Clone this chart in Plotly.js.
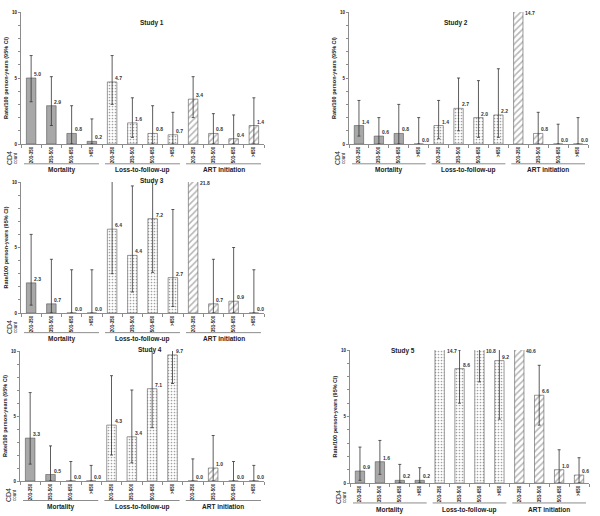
<!DOCTYPE html>
<html>
<head>
<meta charset="utf-8">
<script src="https://cdn.plot.ly/plotly-3.0.1.min.js"></script>
<style>
  html, body { margin: 0; padding: 0; background: #fff; }
  #chart { width: 600px; height: 516px; }
</style>
</head>
<body>
<div id="chart"></div>
<script>
const cd4Labels = ["201-350", "351-500", "501-650", ">650"];
const outcomes = ["Mortality", "Loss-to-follow-up", "ART initiation"];
const studyNames = ["Study 1", "Study 2", "Study 3", "Study 4", "Study 5"];

// rate per 100 person-years, then lower / upper 95% CI
// order: Mortality x4, Loss-to-follow-up x4, ART initiation x4
const study1Rate = [5.0, 2.9, 0.8, 0.2, 4.7, 1.6, 0.8, 0.7, 3.4, 0.8, 0.4, 1.4];
const study1Low  = [3.2, 1.4, 0.0, 0.0, 3.0, 0.5, 0.0, 0.0, 2.0, 0.0, 0.0, 0.0];
const study1High = [6.7, 5.1, 2.9, 1.9, 6.7, 3.5, 2.9, 2.4, 5.1, 2.3, 2.2, 3.5];

const study2Rate = [1.4, 0.6, 0.8, 0.0, 1.4, 2.7, 2.0, 2.2, 14.7, 0.8, 0.0, 0.0];
const study2Low  = [0.6, 0.0, 0.0, 0.0, 0.4, 1.0, 0.5, 0.5, 11.0, 0.0, 0.0, 0.0];
const study2High = [3.3, 2.0, 3.0, 2.0, 3.3, 5.0, 4.8, 5.7, 19.0, 2.4, 1.5, 2.0];

const study3Rate = [2.3, 0.7, 0.0, 0.0, 6.4, 4.4, 7.2, 2.7, 21.8, 0.7, 0.9, 0.0];
const study3Low  = [0.6, 0.0, 0.0, 0.0, 3.0, 1.6, 3.1, 0.5, 17.0, 0.0, 0.0, 0.0];
const study3High = [6.0, 4.1, 3.3, 3.3, 11.5, 9.7, 11.0, 7.9, 27.0, 4.1, 5.0, 3.3];

const study4Rate = [3.3, 0.5, 0.0, 0.0, 4.3, 3.4, 7.1, 9.7, 0.0, 1.0, 0.0, 0.0];
const study4Low  = [1.3, 0.0, 0.0, 0.0, 2.0, 1.4, 4.1, 7.5, 0.0, 0.0, 0.0, 0.0];
const study4High = [6.8, 2.7, 1.5, 1.2, 8.1, 7.0, 10.5, 12.0, 1.7, 3.5, 1.5, 1.2];

const study5Rate = [0.9, 1.6, 0.2, 0.2, 14.7, 8.6, 10.8, 9.2, 40.6, 6.6, 1.0, 0.6];
const study5Low  = [0.2, 0.65, 0.0, 0.0, 12.0, 6.0, 7.6, 4.8, 35.0, 4.35, 0.0, 0.0];
const study5High = [2.7, 3.2, 1.4, 1.15, 18.0, 10.0, 14.0, 11.5, 46.0, 8.85, 2.5, 1.9];

const rates = [study1Rate, study2Rate, study3Rate, study4Rate, study5Rate];
const lows = [study1Low, study2Low, study3Low, study4Low, study5Low];
const highs = [study1High, study2High, study3High, study4High, study5High];

const FONT = "Arial, 'Liberation Sans', sans-serif";
const GREY = "#8c8c8c";
const W = 600, H = 516, YMAX = 10;

// plot boxes in pixels [left, right, top, bottom] and title spots
const boxes = [
    [21, 264, 12, 144],
    [349, 588, 12, 144],
    [21, 264, 182, 313],
    [20, 264, 351, 481],
    [350, 589, 350, 483]
];
const titleSpots = [[138, 17], [470, 17], [138, 181], [136, 356], [417, 357]];

const cats = [];
outcomes.forEach(o => cd4Labels.forEach(c => cats.push(o + " " + c)));
const catText = cats.map((c, i) => cd4Labels[i % 4]);

const barStyles = [
    {color: "#a8a8a8", line: {color: "#555", width: 0.6}},
    {color: "#ffffff", line: {color: "#555", width: 0.6},
        pattern: {shape: ".", fgcolor: "#444", bgcolor: "#ffffff", size: 3, solidity: 0.25, fillmode: "overlay"}},
    {color: "#ffffff", line: {color: "#555", width: 0.6},
        pattern: {shape: "/", fgcolor: "#707070", bgcolor: "#ffffff", size: 4.5, solidity: 0.35, fillmode: "overlay"}}
];

const traces = [];
const annotations = [];
const shapes = [];
const layout = {
    width: W, height: H,
    margin: {l: 0, r: 0, t: 0, b: 0},
    paper_bgcolor: "#fff", plot_bgcolor: "#fff",
    barmode: "overlay",
    showlegend: false,
    font: {family: FONT, color: "#222"}
};

rates.forEach((rate, s) => {
    const sfx = s === 0 ? "" : String(s + 1);
    const low = lows[s], high = highs[s];
    const [l, r, t, b] = boxes[s];

    outcomes.forEach((o, g) => {
        const idx = [0, 1, 2, 3].map(k => g * 4 + k);
        traces.push({
            type: "bar",
            x: idx.map(i => cats[i]),
            y: idx.map(i => rate[i]),
            width: 0.47,
            xaxis: "x" + sfx, yaxis: "y" + sfx,
            marker: barStyles[g],
            error_y: {
                type: "data", symmetric: false,
                array: idx.map(i => high[i] - rate[i]),
                arrayminus: idx.map(i => rate[i] - low[i]),
                color: "#333", thickness: 0.8, width: 1.5
            },
            hoverinfo: "skip"
        });

        // line and name under each outcome group
        shapes.push({
            type: "line", xref: "x" + sfx, yref: "y" + sfx + " domain",
            x0: g * 4 - 0.35, x1: g * 4 + 3.35, y0: -0.15, y1: -0.15,
            line: {color: GREY, width: 1}
        });
        annotations.push({
            xref: "x" + sfx, yref: "y" + sfx + " domain",
            x: g * 4 + 1.5, y: -0.155, yanchor: "top", showarrow: false,
            text: o, font: {size: 6.5, weight: "bold", color: "#222"}
        });
    });

    // value labels
    rate.forEach((v, i) => {
        const clipped = v > YMAX;
        annotations.push({
            xref: "x" + sfx, yref: "y" + sfx,
            x: cats[i], y: clipped ? YMAX - 0.4 : v,
            xanchor: "left", yanchor: "bottom",
            xshift: clipped ? 5 : 1, yshift: -1,
            showarrow: false, text: v.toFixed(1),
            font: {size: 5, weight: "bold", color: "#333"}
        });
    });

    annotations.push({
        xref: "paper", yref: "paper",
        x: titleSpots[s][0] / W, y: 1 - titleSpots[s][1] / H,
        showarrow: false, text: studyNames[s],
        font: {size: 6.5, weight: "bold", color: "#222"}
    });
    annotations.push({
        xref: "x" + sfx + " domain", yref: "y" + sfx + " domain",
        x: -12 / (r - l), y: -14 / (b - t),
        xanchor: "center", yanchor: "middle", showarrow: false,
        text: "CD4", textangle: -90, font: {size: 7, color: "#222"}
    });
    annotations.push({
        xref: "x" + sfx + " domain", yref: "y" + sfx + " domain",
        x: -6 / (r - l), y: -14 / (b - t),
        xanchor: "center", yanchor: "middle", showarrow: false,
        text: "count", textangle: -90, font: {size: 4.5, color: "#222"}
    });

    layout["xaxis" + sfx] = {
        domain: [l / W, r / W], anchor: "y" + sfx,
        type: "category", categoryorder: "array", categoryarray: cats,
        tickmode: "array", tickvals: cats, ticktext: catText,
        tickson: "boundaries", ticks: "outside", ticklen: 3, tickcolor: GREY,
        tickangle: -90, tickfont: {size: 4.5, weight: "bold", color: "#222"},
        showline: true, linecolor: GREY, linewidth: 1,
        showgrid: false, zeroline: false, range: [-0.5, 11.5], fixedrange: true
    };
    layout["yaxis" + sfx] = {
        domain: [1 - b / H, 1 - t / H], anchor: "x" + sfx,
        range: [0, YMAX], tickmode: "array",
        tickvals: [0, 1, 2, 3, 4, 5, 6, 7, 8, 9, 10],
        ticktext: ["0", "", "", "", "", "5", "", "", "", "", "10"],
        ticks: "outside", ticklen: 2, tickcolor: GREY,
        tickfont: {size: 4.5, weight: "bold", color: "#222"},
        showline: true, linecolor: GREY, linewidth: 1,
        showgrid: false, zeroline: false, fixedrange: true,
        title: {text: "Rate/100 person-years (95% CI)", standoff: 3,
            font: {size: 5.5, weight: "bold", color: "#222"}}
    };
});

layout.annotations = annotations;
layout.shapes = shapes;

Plotly.newPlot("chart", traces, layout, {staticPlot: true, displayModeBar: false});
</script>
</body>
</html>
